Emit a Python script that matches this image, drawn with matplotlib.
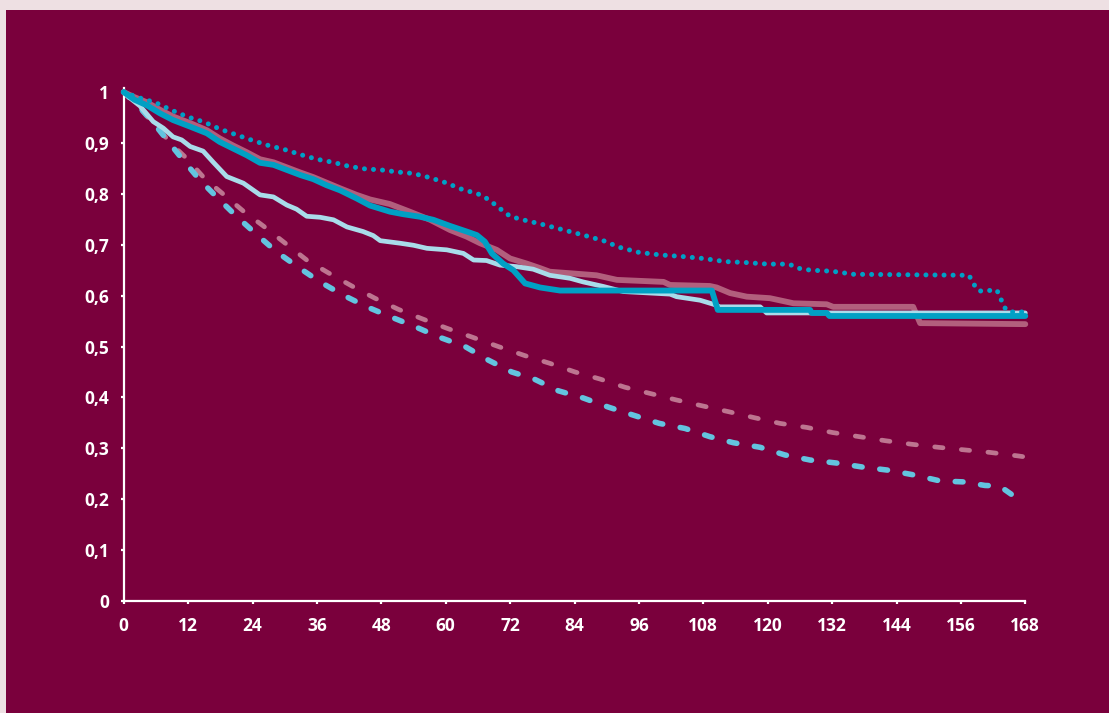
import matplotlib.pyplot as plt
from matplotlib.patches import Rectangle

########################################################################
# Survival curves over 168 months.
xticks = [0, 12, 24, 36, 48, 60, 72, 84, 96, 108, 120, 132, 144, 156, 168]
yticks = [0, 0.1, 0.2, 0.3, 0.4, 0.5, 0.6, 0.7, 0.8, 0.9, 1.0]
ytick_labels = ["0", "0,1", "0,2", "0,3", "0,4", "0,5", "0,6", "0,7", "0,8", "0,9", "1"]

# dotted teal curve
dot_t = [0, 2.5, 6, 9, 12, 15, 18, 21, 24, 27, 30, 33, 36, 39, 42, 45, 48, 51,
         54, 57, 60, 63, 66, 68, 70, 72, 74, 78, 82, 86, 90, 92, 96, 100, 104,
         108, 112, 116, 120, 124, 125.6, 128, 132, 136, 157.5, 158.5, 159.4,
         162.7, 163.4, 164, 165, 168]
dot_s = [1.0, 0.99, 0.979, 0.964, 0.951, 0.941, 0.927, 0.916, 0.905, 0.895,
         0.887, 0.877, 0.868, 0.862, 0.854, 0.849, 0.847, 0.843, 0.840, 0.832,
         0.822, 0.809, 0.800, 0.789, 0.772, 0.756, 0.750, 0.740, 0.729, 0.718,
         0.706, 0.696, 0.685, 0.680, 0.677, 0.673, 0.667, 0.665, 0.662, 0.662,
         0.654, 0.650, 0.648, 0.642, 0.640, 0.621, 0.609, 0.611, 0.595, 0.578,
         0.568, 0.568]

# solid teal curve
teal_t = [0, 2, 4.3, 6.8, 9.2, 12.4, 15.5, 17.9, 20.4, 22.9, 25.4, 27.9, 30.4,
          32.9, 35.3, 37.8, 40.3, 43.4, 45.9, 49.6, 52.1, 55.2, 57.7, 60.8,
          63.9, 65.8, 67.3, 68.6, 70.7, 72.6, 74.8, 77.6, 81.3, 109.6, 110.7,
          127.9, 128.2, 131, 131.5, 168]
teal_s = [1.0, 0.985, 0.974, 0.958, 0.945, 0.932, 0.919, 0.902, 0.889, 0.876,
          0.861, 0.857, 0.847, 0.837, 0.829, 0.817, 0.807, 0.791, 0.777, 0.765,
          0.760, 0.755, 0.749, 0.737, 0.726, 0.719, 0.706, 0.683, 0.663, 0.650,
          0.624, 0.616, 0.610, 0.610, 0.572, 0.572, 0.566, 0.566, 0.560, 0.560]

# solid mauve curve
mauve_t = [0, 2, 4.3, 6.8, 9.2, 12.4, 15.5, 17.9, 20.4, 22.9, 25.4, 27.9, 30.4,
           32.9, 35.3, 37.8, 40.3, 43.4, 45.9, 49.6, 53.3, 57.1, 60.8, 63.9,
           66.4, 69.5, 72.0, 75.1, 77.6, 79.4, 83.2, 88.1, 91.9, 100.6, 101.8,
           109.2, 110.5, 113.0, 116.1, 120.4, 123.5, 124.8, 131.0, 132.2,
           147.1, 148.4, 168]
mauve_s = [1.0, 0.99, 0.980, 0.965, 0.952, 0.939, 0.925, 0.909, 0.895, 0.882,
           0.868, 0.862, 0.852, 0.842, 0.833, 0.822, 0.811, 0.798, 0.789, 0.780,
           0.765, 0.749, 0.729, 0.716, 0.703, 0.690, 0.673, 0.663, 0.654, 0.647,
           0.644, 0.640, 0.631, 0.627, 0.621, 0.619, 0.616, 0.605, 0.598, 0.595,
           0.588, 0.585, 0.583, 0.578, 0.578, 0.546, 0.544]

# solid light blue curve
light_t = [0, 1.2, 3.0, 5.5, 7.4, 9.2, 10.8, 12.4, 14.8, 16.7, 19.2, 22.3, 25.4,
           27.9, 30.4, 32.2, 34.1, 36.6, 39.1, 41.6, 44.6, 46.5, 47.8, 51.5,
           54.0, 56.5, 60.2, 63.3, 65.2, 67.6, 70.1, 73.2, 76.3, 79.4, 83.2,
           85.6, 89.4, 93.1, 101.8, 103.0, 107.4, 109.9, 111.1, 118.6, 119.8, 168]
light_s = [1.0, 0.988, 0.973, 0.942, 0.929, 0.912, 0.906, 0.893, 0.884, 0.862,
           0.834, 0.821, 0.798, 0.794, 0.778, 0.770, 0.756, 0.754, 0.749, 0.735,
           0.726, 0.718, 0.708, 0.703, 0.699, 0.693, 0.690, 0.683, 0.670, 0.669,
           0.660, 0.657, 0.652, 0.640, 0.634, 0.627, 0.618, 0.608, 0.603, 0.598,
           0.591, 0.583, 0.578, 0.578, 0.566, 0.566]

# dashed pink curve
pdash_t = [0, 3, 6, 9, 11.7, 15.1, 18.6, 22.3, 26.0, 30.1, 34.1, 38.1, 42.5,
           46.8, 51.2, 55.5, 60.2, 64.8, 69.8, 74.8, 79.4, 84.1, 88.8, 93.4,
           98.4, 103.0, 108.0, 112.7, 117.6, 122.3, 127.3, 132.1, 137.0, 141.9,
           146.8, 151.8, 156.6, 161.4, 166.7, 168]
pdash_s = [1.0, 0.968, 0.933, 0.897, 0.870, 0.830, 0.799, 0.766, 0.737, 0.703,
           0.670, 0.645, 0.619, 0.595, 0.573, 0.555, 0.536, 0.519, 0.500, 0.482,
           0.467, 0.450, 0.436, 0.420, 0.407, 0.395, 0.383, 0.372, 0.360, 0.349,
           0.341, 0.331, 0.323, 0.315, 0.308, 0.302, 0.297, 0.292, 0.285, 0.283]

# dashed light blue curve
bdash_t = [0, 3, 5.5, 8.0, 11.1, 14.2, 17.6, 21.1, 24.8, 28.5, 32.5, 36.6, 40.9,
           45.3, 49.6, 54.3, 58.9, 63.6, 68.0, 72.3, 76.5, 81.0, 85.6, 90.3,
           95.0, 99.8, 104.6, 109.2, 113.6, 118.6, 123.2, 127.9, 132.9, 137.8,
           142.5, 147.1, 152.1, 156.5, 160.5, 163.2, 166.3]
bdash_s = [1.0, 0.97, 0.94, 0.907, 0.866, 0.827, 0.791, 0.755, 0.720, 0.686,
           0.656, 0.627, 0.601, 0.578, 0.559, 0.539, 0.518, 0.500, 0.473, 0.450,
           0.436, 0.413, 0.399, 0.381, 0.365, 0.349, 0.339, 0.323, 0.311, 0.302,
           0.287, 0.277, 0.271, 0.263, 0.257, 0.248, 0.236, 0.234, 0.227, 0.226,
           0.203]

########################################################################
BG = "#7a003c"
FRAME = "#eee0e3"

fig = plt.figure(figsize=(11.09, 7.13), dpi=100, facecolor=FRAME)
fig.patches.append(Rectangle((6 / 1109, 0), 1, 703 / 713, transform=fig.transFigure,
                             facecolor=BG, edgecolor="none", zorder=-10))

ax = fig.add_axes([123.7 / 1109, 112 / 713, (1025.3 - 123.7) / 1109, 513 / 713])
ax.set_facecolor("none")

ax.plot(pdash_t, pdash_s, color="#bd7590", lw=3.4, dashes=(1.76, 3.9),
        dash_capstyle="round", solid_capstyle="round", zorder=2, clip_on=False)
ax.plot(bdash_t, bdash_s, color="#63c4df", lw=4.0, dashes=(1.4, 3.2),
        dash_capstyle="round", solid_capstyle="round", zorder=2, clip_on=False)
ax.plot(mauve_t, mauve_s, color="#b25f7d", lw=4.2, solid_capstyle="round",
        solid_joinstyle="round", zorder=3, clip_on=False)
ax.plot(light_t, light_s, color="#a9dcea", lw=3.4, solid_capstyle="round",
        solid_joinstyle="round", zorder=4, clip_on=False)
ax.plot(teal_t, teal_s, color="#00a0c4", lw=4.2, solid_capstyle="round",
        solid_joinstyle="round", zorder=5, clip_on=False)
ax.plot(dot_t, dot_s, color="#00a0c6", lw=3.6, dashes=(0.01, 1.8),
        dash_capstyle="round", zorder=6, clip_on=False)

ax.set_xlim(0, 168)
ax.set_ylim(0, 1.008)
ax.set_xticks(xticks)
ax.set_yticks(yticks)
ax.set_yticklabels(ytick_labels)

for side in ["top", "right"]:
    ax.spines[side].set_visible(False)
for side in ["left", "bottom"]:
    ax.spines[side].set_color("white")
    ax.spines[side].set_linewidth(1.6)

ax.tick_params(colors="white", length=2.5, width=1.6)
ax.tick_params(axis="y", pad=8)
ax.tick_params(axis="x", pad=9)
for lab in ax.get_xticklabels() + ax.get_yticklabels():
    lab.set_fontfamily("Open Sans")
    lab.set_fontweight("bold")
    lab.set_fontsize(12.5)
    lab.set_color("white")

fig.savefig("out.png", dpi=100, facecolor=FRAME)
